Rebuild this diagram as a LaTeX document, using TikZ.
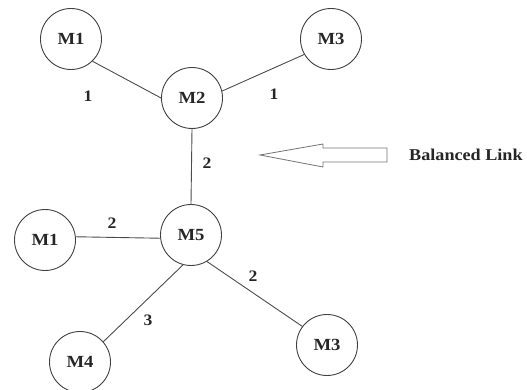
\documentclass[tikz,border=0pt]{standalone}
\usepackage{fontspec}
\setmainfont{Liberation Serif}[FakeStretch=1.1]
\begin{document}
\begin{tikzpicture}[x=1pt,y=-1pt,
  machine/.style={circle,draw=black!75,line width=0.9pt,minimum size=61pt,inner sep=0pt,
    font=\fontsize{17}{17}\selectfont\bfseries,text=black!85},
  link/.style={draw=black!70,line width=0.9pt},
  weight/.style={font=\fontsize{16}{16}\selectfont\bfseries,text=black!85,inner sep=0pt},
  arrowbox/.style={draw=black!55,line width=0.8pt,line join=miter}]
\useasboundingbox (0,0) rectangle (527,390);
% machines
\node[machine] (m1a) at (71,39) {M1};
\node[machine] (m2) at (192,98) {M2};
\node[machine] (m3a) at (331,39) {M3};
\node[machine] (m5) at (191,235) {M5};
\node[machine] (m1b) at (45,240) {M1};
\node[machine] (m4) at (80,362) {M4};
\node[machine] (m3b) at (327,345) {M3};
% links
\draw[link] (m1a.-46) -- (m2.180);
\draw[link] (m2.13) -- (m3a.210);
\draw[link] (m2.south) -- (m5.north);
\draw[link] (m1b.6) -- (m5.186);
\draw[link] (m5.255) -- (m4.41);
\draw[link] (m5.301) -- (m3b.143);
% link weights
\node[weight] (w1) at (88,96) {1};
\node[weight] (w2) at (274,94) {1};
\node[weight] (w3) at (207,163) {2};
\node[weight] (w4) at (112,223) {2};
\node[weight] (w5) at (253,276) {2};
\node[weight] (w6) at (148,320) {3};
% hollow arrow pointing at the balanced link
\draw[arrowbox] (260,155) -- (323,144) -- (323,148) -- (387,148) -- (387,162)
  -- (323,162) -- (323,167) -- cycle;
\node[anchor=west,inner sep=0pt,font=\fontsize{16.5}{16.5}\selectfont\bfseries,text=black!85]
  (bl) at (409,155) {Balanced Link};
\end{tikzpicture}
\end{document}
